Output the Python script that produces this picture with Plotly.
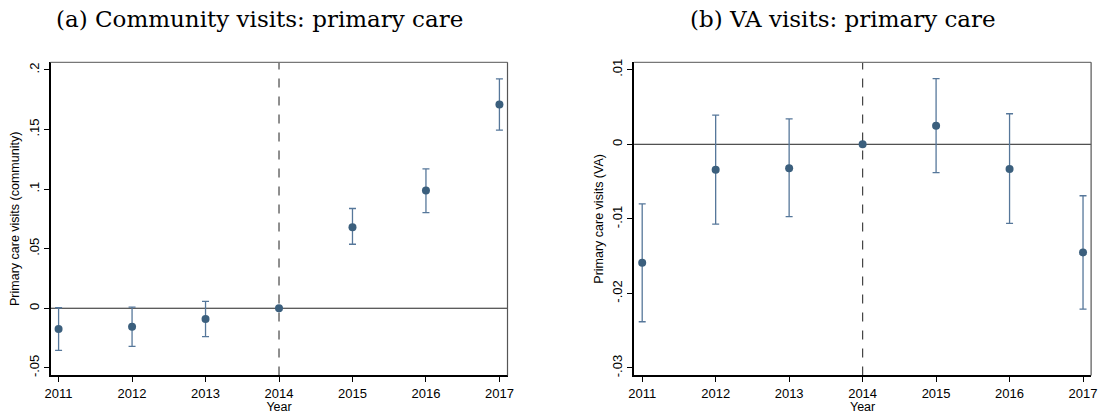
import plotly.graph_objects as go

# Event-study estimates by year, relative to 2014
years = [2011, 2012, 2013, 2014, 2015, 2016, 2017]

# (a) Community visits: primary care
comm_est = [-0.0175, -0.0155, -0.0091, 0.0, 0.068, 0.0987, 0.171]
comm_lo = [-0.0354, -0.0320, -0.0238, 0.0, 0.0537, 0.0803, 0.1495]
comm_hi = [0.0004, 0.0010, 0.0058, 0.0, 0.0837, 0.1170, 0.1925]

# (b) VA visits: primary care
va_est = [-0.0159, -0.0034, -0.0032, 0.0, 0.0025, -0.0033, -0.0145]
va_lo = [-0.0238, -0.0107, -0.0097, 0.0, -0.0038, -0.0106, -0.0221]
va_hi = [-0.0080, 0.0039, 0.0034, 0.0, 0.0088, 0.0041, -0.0069]

comm_ticks = [-0.05, 0, 0.05, 0.1, 0.15, 0.2]
comm_ticktext = ["-.05", "0", ".05", ".1", ".15", ".2"]
va_ticks = [-0.03, -0.02, -0.01, 0, 0.01]
va_ticktext = ["-.03", "-.02", "-.01", "0", ".01"]

W, H = 1107, 414
MARKER = "#3b5f7d"
BAR = "#56779a"

fig = go.Figure()


def add_panel(est, lo, hi, xa, ya):
    has_ci = [l != h for l, h in zip(lo, hi)]
    plus = [h - e if c else None for e, h, c in zip(est, hi, has_ci)]
    minus = [e - l if c else None for e, l, c in zip(est, lo, has_ci)]
    fig.add_trace(go.Scatter(
        x=years, y=est, mode="markers", xaxis=xa, yaxis=ya,
        marker=dict(color=MARKER, size=8),
        error_y=dict(type="data", symmetric=False, array=plus, arrayminus=minus,
                     color=BAR, thickness=1.3, width=3.5),
        showlegend=False, hoverinfo="skip",
    ))


add_panel(comm_est, comm_lo, comm_hi, "x", "y")
add_panel(va_est, va_lo, va_hi, "x2", "y2")

ydom = [1 - 377 / H, 1 - 60 / H]
axfont = dict(family="Liberation Sans, Arial, sans-serif", size=12.5, color="#000")
tickfont = dict(family="Liberation Sans, Arial, sans-serif", size=13, color="#000")

xcommon = dict(
    range=[2010.89, 2017.11], tickmode="array", tickvals=years,
    ticks="outside", ticklen=5, tickcolor="#000", tickwidth=1,
    showline=True, linecolor="#000", linewidth=1.6, showgrid=False,
    zeroline=False, tickfont=tickfont,
    title=dict(text="Year", font=axfont, standoff=0),
)
ycommon = dict(
    ticks="outside", ticklen=5, tickcolor="#000", tickwidth=1,
    showline=True, linecolor="#000", linewidth=1.6, showgrid=False,
    zeroline=False, tickfont=tickfont, tickangle=-90,
)

fig.update_layout(
    width=W, height=H,
    margin=dict(l=0, r=0, t=0, b=0),
    paper_bgcolor="white", plot_bgcolor="white",
    xaxis=dict(domain=[45 / W, 507 / W], anchor="y", **xcommon),
    xaxis2=dict(domain=[635 / W, 1097 / W], anchor="y2", **xcommon),
    yaxis=dict(domain=ydom, anchor="x", range=[-0.0564, 0.2064],
               tickvals=comm_ticks, ticktext=comm_ticktext,
               title=dict(text="Primary care visits (community)", font=axfont, standoff=4),
               **ycommon),
    yaxis2=dict(domain=ydom, anchor="x2", range=[-0.0310, 0.0110],
                tickvals=va_ticks, ticktext=va_ticktext,
                title=dict(text="Primary care visits (VA)", font=axfont, standoff=4),
                **ycommon),
)

shapes = []
for xa, ya in [("x", "y"), ("x2", "y2")]:
    xd, yd = xa + " domain", ya + " domain"
    # frame: top and right edges
    shapes.append(dict(type="line", xref=xd, yref=yd, x0=0, x1=1, y0=1, y1=1,
                       line=dict(color="#777", width=1.2)))
    shapes.append(dict(type="line", xref=xd, yref=yd, x0=1, x1=1, y0=0, y1=1,
                       line=dict(color="#555", width=1.2)))
    # reference lines: zero effect and 2014 base year
    shapes.append(dict(type="line", xref=xd, yref=ya, x0=0, x1=1, y0=0, y1=0,
                       line=dict(color="#222", width=1), layer="below"))
    shapes.append(dict(type="line", xref=xa, yref=yd, x0=2014, x1=2014, y0=0, y1=1,
                       line=dict(color="#444", width=1.2, dash="dash"), layer="below"))
fig.update_layout(shapes=shapes)

titlefont = dict(family="DejaVu Serif, serif", size=23, color="#000")
fig.add_annotation(text="(a) Community visits: primary care", xref="paper", yref="paper",
                   x=256 / W, y=1 - 16 / H, showarrow=False, font=titlefont,
                   xanchor="center", yanchor="middle")
fig.add_annotation(text="(b) VA visits: primary care", xref="paper", yref="paper",
                   x=846 / W, y=1 - 16 / H, showarrow=False, font=titlefont,
                   xanchor="center", yanchor="middle")

fig.write_html("out.html")
